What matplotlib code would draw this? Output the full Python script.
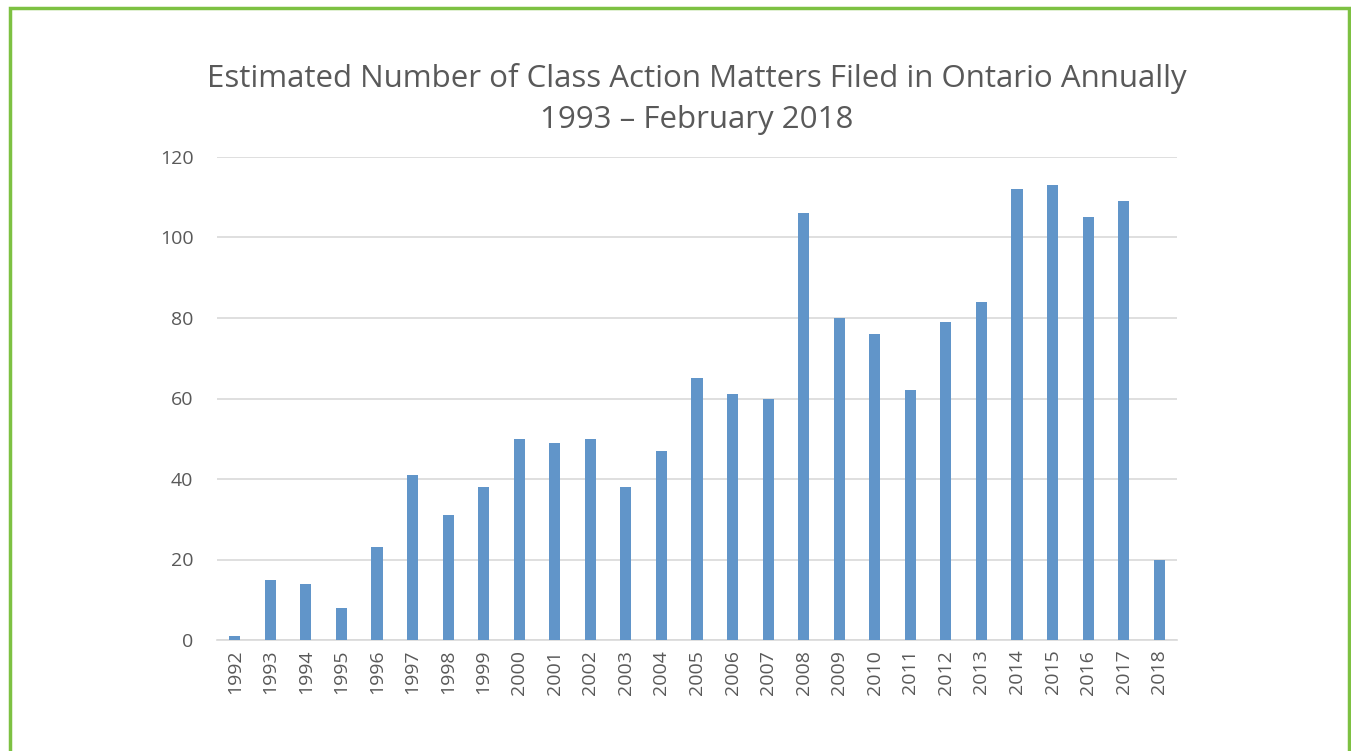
import numpy as np
import matplotlib.pyplot as plt
from matplotlib.patches import Rectangle

# Jahre und geschätzte Anzahl Sammelklagen
years = [str(y) for y in range(1992, 2019)]
counts = [1, 15, 14, 8, 23, 41, 31, 38, 50, 49, 50, 38, 47, 65, 61, 60,
          106, 80, 76, 62, 79, 84, 112, 113, 105, 109, 20]
yticks = [0, 20, 40, 60, 80, 100, 120]

plt.rcParams['font.family'] = ['Open Sans', 'DejaVu Sans']

fig = plt.figure(figsize=(13.51, 7.51), dpi=100)
ax = fig.add_axes([217/1351, 1 - 640/751, 960/1351, 483/751])

x = np.arange(len(years))
ax.bar(x, counts, width=0.31, color='#6195c9', zorder=3)

ax.set_xlim(-0.5, len(years) - 0.5)
ax.set_ylim(0, 120)
ax.set_yticks(yticks)
ax.set_xticks(x)
ax.set_xticklabels(years, rotation=90)
ax.tick_params(axis='both', length=0, colors='#595959', labelsize=14)
ax.tick_params(axis='y', pad=17)
ax.tick_params(axis='x', pad=7)
ax.grid(axis='y', color='#d9d9d9', linewidth=1.2, zorder=0)
for s in ['top', 'right', 'left']:
    ax.spines[s].set_visible(False)
ax.spines['bottom'].set_color('#d9d9d9')
ax.spines['bottom'].set_linewidth(1.2)

fig.text(697/1351, 1 - 78/751, 'Estimated Number of Class Action Matters Filed in Ontario Annually',
         ha='center', va='center', fontsize=22.5, color='#595959')
fig.text(697/1351, 1 - 120/751, '1993 \u2013 February 2018',
         ha='center', va='center', fontsize=22.5, color='#595959')

# gruener Rahmen
fig.patches.append(Rectangle((10/1351, -0.1), 1339/1351, 1.1 - 8/751,
                             transform=fig.transFigure, fill=False,
                             edgecolor='#7dc142', linewidth=2.5, clip_on=False))

fig.savefig('out.png', dpi=100)
